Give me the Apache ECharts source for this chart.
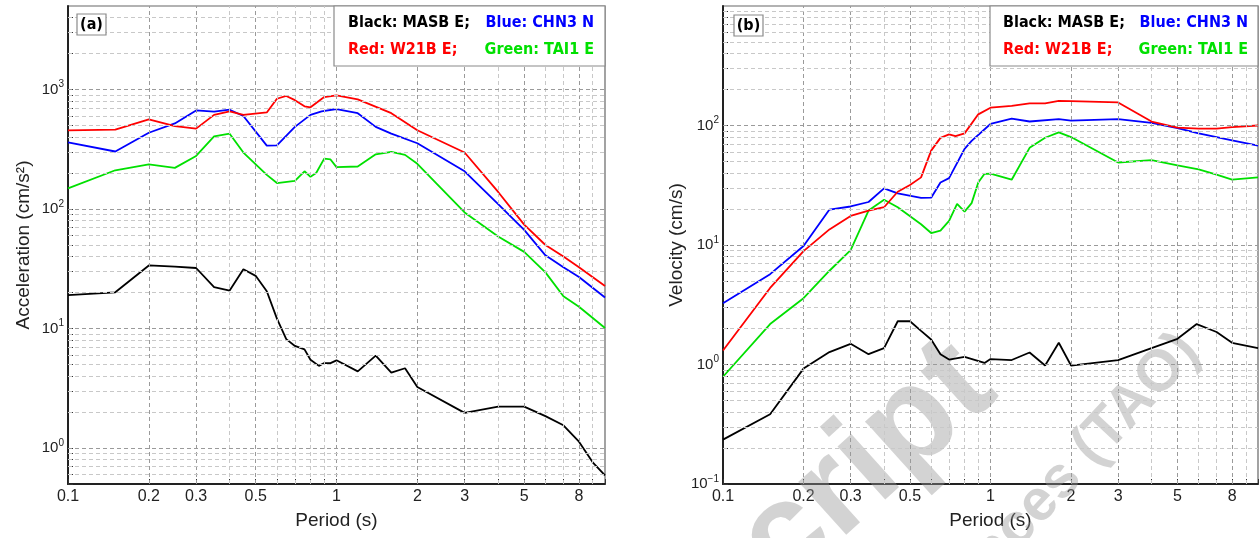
<!DOCTYPE html>
<html>
<head>
<meta charset="utf-8">
<script src="https://cdn.jsdelivr.net/npm/echarts@6/dist/echarts.min.js"></script>
<style>html,body{margin:0;padding:0;background:#fff}#c{width:1260px;height:538px}</style>
</head>
<body>
<div id="c"></div>
<script>
// ---------- DATA ----------
// Panel (a): spectral acceleration (cm/s^2) vs period (s)
const accRedT   = [0.1,0.15,0.2,0.25,0.3,0.35,0.4,0.45,0.55,0.6,0.65,0.7,0.76,0.8,0.9,1,1.2,1.6,2,3,4,5,6,7,8,10];
const accRed    = [456,462,563,494,471,614,656,614,643,837,883,815,724,710,865,894,826,634,456,297,139,74,50,40,32.6,22.7];
const accBlueT  = [0.1,0.15,0.2,0.25,0.3,0.35,0.4,0.45,0.55,0.6,0.7,0.8,0.88,1,1.2,1.4,1.6,2,3,4,5,6,7,8,10];
const accBlue   = [362,303,435,520,668,652,678,601,339,341,487,614,656,687,634,487,427,355,207,110,67,41,32.6,27,18.2];
const accGreenT = [0.1,0.15,0.2,0.25,0.3,0.35,0.4,0.45,0.55,0.6,0.7,0.76,0.8,0.84,0.9,0.95,1,1.2,1.4,1.6,1.8,2,3,4,5,6,7,8,10];
const accGreen  = [149,211,236,221,278,405,427,297,193,165,172,207,186,200,264,260,224,227,287,301,284,239,93.6,59,43.8,29.5,18.6,15.2,10.1];
const accBlackT = [0.1,0.15,0.2,0.25,0.3,0.35,0.4,0.45,0.5,0.55,0.6,0.65,0.7,0.76,0.8,0.86,0.9,0.95,1,1.2,1.4,1.6,1.8,2,3,4,5,6,7,8,9,10];
const accBlack  = [19,20.1,33.7,33,32.1,22.2,20.8,31.3,27.6,20.5,12.1,8.15,7.15,6.69,5.48,4.87,5.14,5.14,5.42,4.38,5.94,4.27,4.65,3.24,1.97,2.22,2.22,1.85,1.55,1.13,0.76,0.59];

// Panel (b): spectral velocity (cm/s) vs period (s)
const velRedT   = [0.1,0.15,0.2,0.25,0.3,0.35,0.4,0.45,0.5,0.55,0.6,0.65,0.7,0.74,0.8,0.9,1,1.2,1.4,1.6,1.8,2,3,4,5,6,7,8,10];
const velRed    = [1.31,4.37,8.88,13.5,17.5,19.4,20.7,27.9,31.8,36.8,61.6,78.8,84.2,81.5,85.9,124,141,146,153,153,161,160,156,108,96,94,94,97,100];
const velBlueT  = [0.1,0.15,0.2,0.25,0.3,0.35,0.4,0.45,0.55,0.6,0.65,0.7,0.8,0.85,1,1.2,1.4,1.8,2,3,4,5,6,7,8,10];
const velBlue   = [3.25,5.7,9.8,19.8,21,22.9,29.8,27,24.8,24.9,33.3,36.3,63.8,74.3,103,114,108,113,110,113,105,95,86,80,75,68];
const velGreenT = [0.1,0.15,0.2,0.25,0.3,0.35,0.4,0.45,0.55,0.6,0.65,0.7,0.75,0.8,0.85,0.9,0.95,1,1.2,1.4,1.6,1.8,2,3,4,5,6,7,8,10];
const velGreen  = [0.79,2.18,3.59,6.09,9.06,19.4,23.9,20.7,14.9,12.6,13.2,15.9,22.1,19,22.4,33.3,39.4,39.6,35.2,65,79,87.7,80,49,51.3,46.4,42.9,38.8,35.2,36.8];
const velBlackT = [0.1,0.15,0.2,0.25,0.3,0.35,0.4,0.45,0.5,0.55,0.6,0.65,0.7,0.8,0.95,1,1.2,1.4,1.6,1.8,2,3,4,5,5.9,7,8,10];
const velBlack  = [0.235,0.383,0.924,1.27,1.49,1.22,1.37,2.3,2.3,1.91,1.62,1.22,1.1,1.16,1.03,1.11,1.09,1.26,0.98,1.52,0.98,1.09,1.37,1.64,2.18,1.87,1.52,1.37];

// Tick labels
const xTickLabels = [0.1,0.2,0.3,0.5,1,2,3,5,8];
const accRange = [0.5, 5000];
const velRange = [0.1, 1000];
const periodRange = [0.1, 10];

// Legend texts
const legendLine1 = [['Black: MASB E;', '#000000'], ['Blue: CHN3 N', '#0000ff']];
const legendLine2 = [['Red: W21B E;', '#ff0000'], ['Green: TAI1 E', '#00e000']];
const panelTags = ['(a)', '(b)'];
const yNames = ['Acceleration (cm/s\u00B2)', 'Velocity (cm/s)'];
const xName = 'Period (s)';

// ---------- helpers ----------
const COL = {black:'#000000', blue:'#0000ff', red:'#ff0000', green:'#00e000'};
const FONT = '"Liberation Sans", Arial, sans-serif';
const NARROW = '"DejaVu Sans Condensed", "Liberation Sans", sans-serif';

function minorValues(lo, hi) {
  const out = [];
  for (let e = -3; e <= 5; e++) {
    for (let m = 1; m <= 9; m++) {
      const v = +(m * Math.pow(10, e)).toPrecision(6);
      if (v >= lo * 0.9999 && v <= hi * 1.0001) out.push(v);
    }
  }
  return out;
}
function pairs(t, v) { return t.map((x, i) => [x, v[i]]); }
function fmtX(v) { return String(+(+v).toPrecision(3)); }
function fmtY(v) {
  const e = Math.round(Math.log10(v));
  if (Math.abs(v - Math.pow(10, e)) > 1e-6 * v) return '';
  return '{b|10}{s|' + (e < 0 ? '\u2212' + (-e) : e) + '}';
}

const grids = [
  {left: 68, top: 6, width: 537, height: 478},
  {left: 723, top: 6, width: 535, height: 478}
];
const yRanges = [accRange, velRange];

const xAxes = grids.map((g, i) => ({
  type: 'log', logBase: 10, gridIndex: i, min: periodRange[0], max: periodRange[1],
  name: xName, nameLocation: 'middle', nameGap: 27,
  nameTextStyle: {fontSize: 19, color: '#222', fontFamily: FONT},
  axisLine: {show: true, onZero: false, lineStyle: {color: '#222', width: 2}},
  axisTick: {show: true, inside: true, length: 5, customValues: minorValues(periodRange[0], periodRange[1]), lineStyle: {color: '#333'}},
  axisLabel: {customValues: xTickLabels, formatter: fmtX, fontSize: 16, color: '#222', fontFamily: FONT, margin: 5},
  splitLine: {show: false}
}));

const yAxes = grids.map((g, i) => ({
  type: 'log', logBase: 10, gridIndex: i, min: yRanges[i][0], max: yRanges[i][1],
  name: yNames[i], nameLocation: 'middle', nameGap: i === 0 ? 35 : 37,
  nameTextStyle: {fontSize: 19, color: '#222', fontFamily: FONT},
  axisLine: {show: true, onZero: false, lineStyle: {color: '#222', width: 2}},
  axisTick: {show: true, inside: true, length: 5, customValues: minorValues(yRanges[i][0], yRanges[i][1]), lineStyle: {color: '#333'}},
  axisLabel: {
    formatter: fmtY, margin: 4, showMaxLabel: false,
    rich: {
      b: {fontSize: 15, color: '#222', fontFamily: FONT, lineHeight: 20},
      s: {fontSize: 10, color: '#222', fontFamily: FONT, lineHeight: 10, verticalAlign: 'top'}
    }
  },
  splitLine: {show: false}
}));

const series = [];
// grid lines as mark lines on helper series
grids.forEach((g, i) => {
  const yr = yRanges[i];
  const xl = minorValues(periodRange[0], periodRange[1]).filter(v => v > periodRange[0] && v < periodRange[1]);
  const yl = minorValues(yr[0], yr[1]).filter(v => v > yr[0] && v < yr[1]);
  const major = v => xTickLabels.indexOf(v) >= 0;
  const decade = v => Math.abs(Math.log10(v) - Math.round(Math.log10(v))) < 1e-9;
  series.push({
    type: 'line', xAxisIndex: i, yAxisIndex: i, data: [[periodRange[0], yr[0]]],
    showSymbol: false, lineStyle: {opacity: 0}, silent: true, z: 1, animation: false,
    markLine: {
      silent: true, symbol: ['none', 'none'], label: {show: false}, animation: false,
      data: xl.map(v => ({xAxis: v, lineStyle: {type: [4, 3], width: 1, color: major(v) ? '#9a9a9a' : '#c8c8c8'}}))
        .concat(yl.map(v => ({yAxis: v, lineStyle: {type: [4, 3], width: 1, color: decade(v) ? '#9a9a9a' : '#c8c8c8'}})))
    }
  });
});

function line(name, t, v, color, idx) {
  return {name, type: 'line', xAxisIndex: idx, yAxisIndex: idx, data: pairs(t, v),
    showSymbol: false, symbol: 'none', lineStyle: {color, width: 1.8}, itemStyle: {color}, z: 3, animation: false};
}
series.push(line('MASB E', accBlackT, accBlack, COL.black, 0));
series.push(line('TAI1 E', accGreenT, accGreen, COL.green, 0));
series.push(line('CHN3 N', accBlueT, accBlue, COL.blue, 0));
series.push(line('W21B E', accRedT, accRed, COL.red, 0));
series.push(line('MASB E', velBlackT, velBlack, COL.black, 1));
series.push(line('TAI1 E', velGreenT, velGreen, COL.green, 1));
series.push(line('CHN3 N', velBlueT, velBlue, COL.blue, 1));
series.push(line('W21B E', velRedT, velRed, COL.red, 1));

// ---------- graphics: legend boxes, panel tags, watermark ----------
const graphic = [];
const legendBoxes = [
  {x: 334, w: 271, c1: 348, c2: 594},
  {x: 990, w: 268, c1: 1003, c2: 1248}
];
legendBoxes.forEach(b => {
  graphic.push({type: 'rect', shape: {x: b.x, y: 6, width: b.w, height: 60}, style: {fill: '#fff', stroke: '#8a8a8a', lineWidth: 1.2}, z: 10, silent: true});
  [[legendLine1, 23], [legendLine2, 50]].forEach(([ln, y]) => {
    ln.forEach((seg, k) => {
      graphic.push({type: 'text', x: k === 0 ? b.c1 : b.c2, y: y, z: 11, silent: true,
        style: {text: seg[0], fill: seg[1], font: 'bold 16px ' + NARROW, align: k === 0 ? 'left' : 'right', verticalAlign: 'middle'}});
    });
  });
});
[[77, 14], [734, 15]].forEach((p, i) => {
  graphic.push({type: 'rect', shape: {x: p[0], y: p[1], width: 29, height: 21}, style: {fill: '#fff', stroke: '#8a8a8a', lineWidth: 1.2}, z: 10, silent: true});
  graphic.push({type: 'text', x: p[0] + 14.5, y: p[1] + 11, z: 11, silent: true,
    style: {text: panelTags[i], fill: '#000', font: 'bold 16px ' + NARROW, align: 'center', verticalAlign: 'middle'}});
});
// watermark
graphic.push({type: 'text', x: 1021, y: 418, rotation: 42 * Math.PI / 180, z: 2, silent: true,
  style: {text: 'Accepted Manuscript', fill: 'rgba(150,150,150,0.42)', font: 'bold 135px ' + FONT, align: 'right', verticalAlign: 'bottom'}});
graphic.push({type: 'text', x: 1211, y: 362, rotation: 47 * Math.PI / 180, z: 2, silent: true,
  style: {text: 'Terrestrial, Atmospheric and Oceanic Sciences (TAO)', fill: 'rgba(150,150,150,0.42)', font: 'bold 58px ' + FONT, align: 'right', verticalAlign: 'bottom'}});

const chart = echarts.init(document.getElementById('c'), null, {renderer: 'canvas'});
chart.setOption({
  animation: false,
  backgroundColor: '#fff',
  grid: grids.map(g => Object.assign({show: true, borderColor: '#666', borderWidth: 1.2, backgroundColor: 'transparent'}, g)),
  xAxis: xAxes,
  yAxis: yAxes,
  series: series,
  graphic: graphic
});
</script>
</body>
</html>
